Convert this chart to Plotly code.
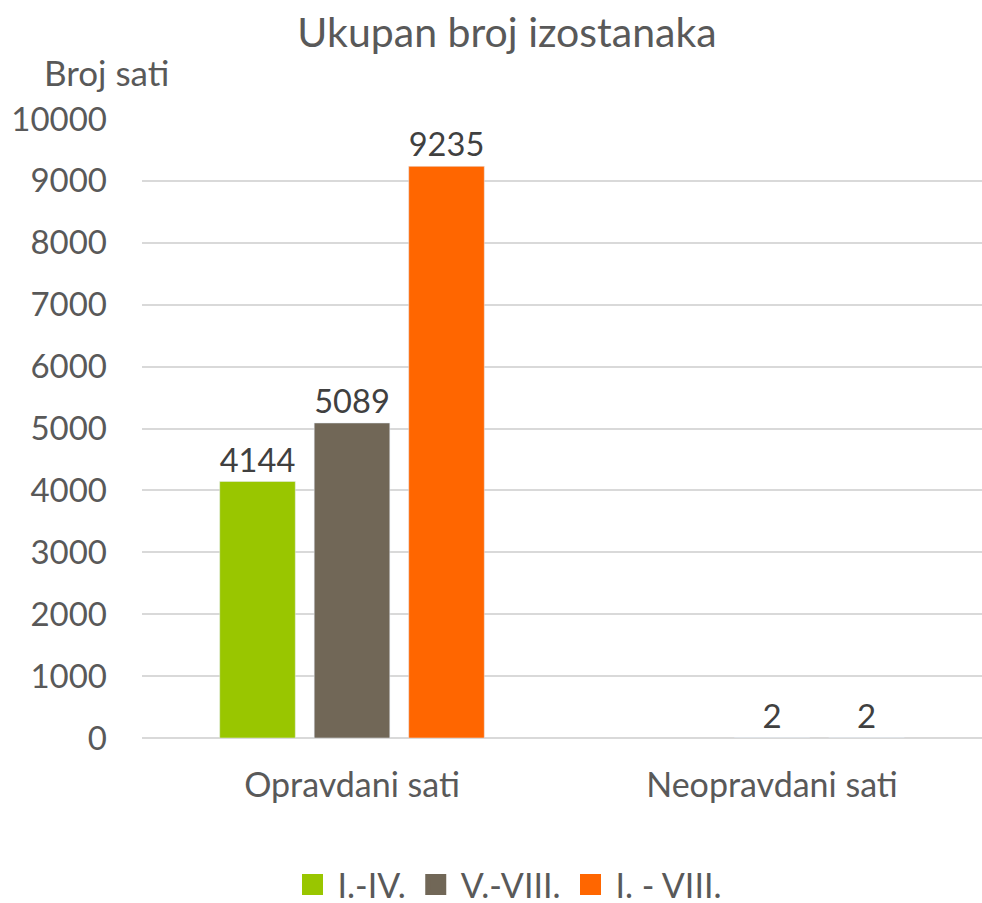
import plotly.graph_objects as go

categories = ["Opravdani sati", "Neopravdani sati"]
series_names = ["I.-IV.", "V.-VIII.", "I. - VIII."]
vals_1_4 = [4144, None]
vals_5_8 = [5089, 2]
vals_1_8 = [9235, 2]
colors = ["#99C600", "#716757", "#FF6600"]
y_ticks = [0, 1000, 2000, 3000, 4000, 5000, 6000, 7000, 8000, 9000, 10000]

FONT = "Lato"
W, HT = 982, 903
L, R, T = 142, 0, 119
B = HT - 738
PW, PH = W - L - R, HT - T - B


def px_x(x):
    return (x - L) / PW


def px_y(y):
    return ((HT - B) - y) / PH


fig = go.Figure()
for name, vals, col in zip(series_names, [vals_1_4, vals_5_8, vals_1_8], colors):
    fig.add_trace(go.Bar(
        x=categories, y=vals, name=name, marker_color=col, showlegend=False,
        text=[("" if v is None else str(v)) for v in vals],
        textposition="outside", cliponaxis=False,
        textfont=dict(family=FONT, size=33, color="#404040"),
    ))
# legend entries with larger square swatches
for name, col in zip(series_names, colors):
    fig.add_trace(go.Scatter(
        x=[None], y=[None], mode="markers", name=name,
        marker=dict(symbol="square", size=16, color=col, line=dict(color=col, width=5)),
    ))

fig.update_layout(
    width=W, height=HT,
    margin=dict(l=L, r=R, t=T, b=B, autoexpand=False),
    paper_bgcolor="white", plot_bgcolor="white",
    barmode="group", bargap=0.325, bargroupgap=0.2,
    title=dict(text="Ukupan broj izostanaka", x=507 / W, xanchor="center",
               y=1 - 33 / HT, yanchor="middle",
               font=dict(family=FONT, size=41, color="#595959")),
    showlegend=True,
    legend=dict(orientation="h", x=px_x(507), xanchor="center",
                y=px_y(885), yanchor="middle",
                font=dict(family=FONT, size=34, color="#595959"),
                itemwidth=40, traceorder="normal"),
    font=dict(family=FONT, color="#595959"),
)
fig.update_yaxes(range=[0, 10000], tickvals=y_ticks, ticktext=[str(v) for v in y_ticks],
                 showgrid=True, automargin=False,
                 gridcolor="#D9D9D9", gridwidth=2, zeroline=True, zerolinecolor="#D9D9D9",
                 zerolinewidth=2, showline=False, ticks="", ticklabelstandoff=34,
                 tickfont=dict(family=FONT, size=33, color="#595959"))
fig.update_xaxes(showline=False, ticks="", ticklabelstandoff=24, automargin=False,
                 tickfont=dict(family=FONT, size=34, color="#595959"))
fig.add_annotation(text="Broj sati", xref="paper", yref="paper",
                   x=px_x(106), y=px_y(72),
                   xanchor="center", yanchor="middle", showarrow=False,
                   font=dict(family=FONT, size=35, color="#595959"))
fig.write_html("out.html", config={"displayModeBar": False},
               post_script="document.body.style.margin='0';document.body.style.overflow='hidden';")
